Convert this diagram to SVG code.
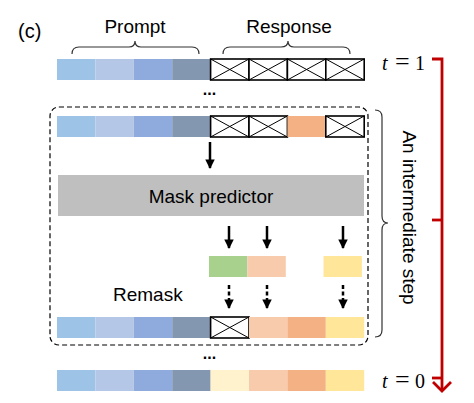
<svg xmlns="http://www.w3.org/2000/svg" xmlns:xlink="http://www.w3.org/1999/xlink" width="474" height="403" viewBox="0 0 474 403">
<style>
.lbl{font-family:"Liberation Sans",Arial,sans-serif;font-size:19px;fill:#000}
.math{font-family:"Liberation Serif","Times New Roman",serif;font-size:20px;fill:#000}
.eq{font-size:26px}
.dots{font-family:"Liberation Sans",Arial,sans-serif;font-size:16px;font-weight:bold;fill:#000}
.p1{fill:#9DC3E6}.p2{fill:#B4C7E7}.p3{fill:#8FAADC}.p4{fill:#8497B0}
.or{fill:#F4B183}.pe{fill:#F8CBAD}.ye{fill:#FFE699}.lt{fill:#FFF2CC}.gr{fill:#A9D18E}
.brace{fill:none;stroke:#333;stroke-width:1.2}
.arr{stroke:#000;stroke-width:2.5;fill:none;marker-end:url(#ah)}
.darr{stroke:#000;stroke-width:2.5;fill:none;stroke-dasharray:4 2.5;marker-end:url(#ah)}
.red{stroke:#C00000;stroke-width:2.8;fill:none}
</style>
<defs>
<marker id="ah" viewBox="0 0 10 10" refX="9" refY="5" markerWidth="4" markerHeight="3.8" orient="auto" markerUnits="strokeWidth">
<path d="M0,0 L10,5 L0,10 z" fill="#000"/>
</marker>
<g id="mask">
<rect x="0" y="0" width="38.4" height="21" fill="#fff" stroke="#000" stroke-width="1.6"/>
<path d="M0,0 L38.4,21 M0,21 L38.4,0" stroke="#000" stroke-width="1"/>
</g>
<g id="prompt">
<rect class="p1" x="0" y="0" width="38.4" height="21"/>
<rect class="p2" x="38.4" y="0" width="38.4" height="21"/>
<rect class="p3" x="76.8" y="0" width="38.4" height="21"/>
<rect class="p4" x="115.2" y="0" width="38.4" height="21"/>
</g>
</defs>
<rect width="474" height="403" fill="#fff"/>

<text class="lbl" x="18" y="38" style="font-size:20px">(c)</text>

<g id="prompt-label">
<text class="lbl" x="135" y="33" text-anchor="middle">Prompt</text>
<path class="brace" d="M72,54 Q72,47 79,47 L129,47 Q135,47 135,41 Q135,47 141,47 L192,47 Q199,47 199,54"/>
</g>
<g id="response-label">
<text class="lbl" x="289" y="33" text-anchor="middle">Response</text>
<path class="brace" d="M223,54 Q223,47 230,47 L281,47 Q288,47 288,41 Q288,47 294,47 L343,47 Q350,47 350,54"/>
</g>

<g id="row-t1">
<use xlink:href="#prompt" x="57" y="59"/>
<use xlink:href="#mask" x="210.6" y="59"/>
<use xlink:href="#mask" x="249" y="59"/>
<use xlink:href="#mask" x="287.4" y="59"/>
<use xlink:href="#mask" x="325.8" y="59"/>
</g>
<text class="dots" x="209.5" y="95" text-anchor="middle">...</text>

<g id="step-box">
<rect x="50" y="107" width="318" height="238" rx="9" fill="none" stroke="#000" stroke-width="1.2" stroke-dasharray="5 3"/>
</g>

<g id="row-mid">
<use xlink:href="#prompt" x="57" y="116"/>
<use xlink:href="#mask" x="210.6" y="116"/>
<use xlink:href="#mask" x="249" y="116"/>
<rect class="or" x="287.4" y="116" width="38.4" height="21"/>
<use xlink:href="#mask" x="325.8" y="116"/>
</g>

<g id="mask-predictor">
<rect x="58" y="175" width="306" height="41" fill="#BFBFBF"/>
<text class="lbl" x="211" y="203" text-anchor="middle">Mask predictor</text>
</g>

<g id="predicted">
<rect class="gr" x="209" y="256" width="38.4" height="21"/>
<rect class="pe" x="247.4" y="256" width="38.4" height="21"/>
<rect class="ye" x="323.5" y="256" width="38.4" height="21"/>
</g>

<text class="lbl" x="113" y="301">Remask</text>

<g id="row-remask">
<use xlink:href="#prompt" x="57" y="317"/>
<use xlink:href="#mask" x="210.6" y="317"/>
<rect class="pe" x="249" y="317" width="38.4" height="21"/>
<rect class="or" x="287.4" y="317" width="38.4" height="21"/>
<rect class="ye" x="325.8" y="317" width="38.4" height="21"/>
</g>
<text class="dots" x="209.5" y="359" text-anchor="middle">...</text>

<g id="row-t0">
<use xlink:href="#prompt" x="57" y="370"/>
<rect class="lt" x="210.6" y="370" width="38.4" height="21"/>
<rect class="pe" x="249" y="370" width="38.4" height="21"/>
<rect class="or" x="287.4" y="370" width="38.4" height="21"/>
<rect class="ye" x="325.8" y="370" width="38.4" height="21"/>
</g>

<g id="connectors">
<line class="arr" x1="210" y1="142" x2="210" y2="168"/>
<line class="arr" x1="229" y1="226" x2="229" y2="248"/>
<line class="arr" x1="267" y1="226" x2="267" y2="248"/>
<line class="arr" x1="343" y1="226" x2="343" y2="248"/>
<line class="darr" x1="229" y1="285" x2="229" y2="308"/>
<line class="darr" x1="267" y1="285" x2="267" y2="308"/>
<line class="darr" x1="343" y1="285" x2="343" y2="308"/>
</g>

<g id="step-brace">
<path class="brace" d="M375,110 Q382,110 382,117 L382,216 Q382,223 388,223 Q382,223 382,230 L382,330 Q382,337 375,337"/>
<text class="lbl" x="0" y="0" transform="translate(403,217.5) rotate(90)" text-anchor="middle">An intermediate step</text>
</g>

<g id="time-axis">
<text class="math" y="70"><tspan x="382" font-style="italic">t</tspan><tspan x="395" class="eq">=</tspan><tspan x="415">1</tspan></text>
<text class="math" y="388"><tspan x="382" font-style="italic">t</tspan><tspan x="395" class="eq">=</tspan><tspan x="415">0</tspan></text>
<path class="red" d="M432,59 L442,59 L442,390"/>
<path class="red" d="M433,382 L442,391 L451,382"/>
<line class="red" x1="432" y1="220" x2="442" y2="220"/>
<line class="red" x1="432" y1="378" x2="442" y2="378"/>
</g>
</svg>
